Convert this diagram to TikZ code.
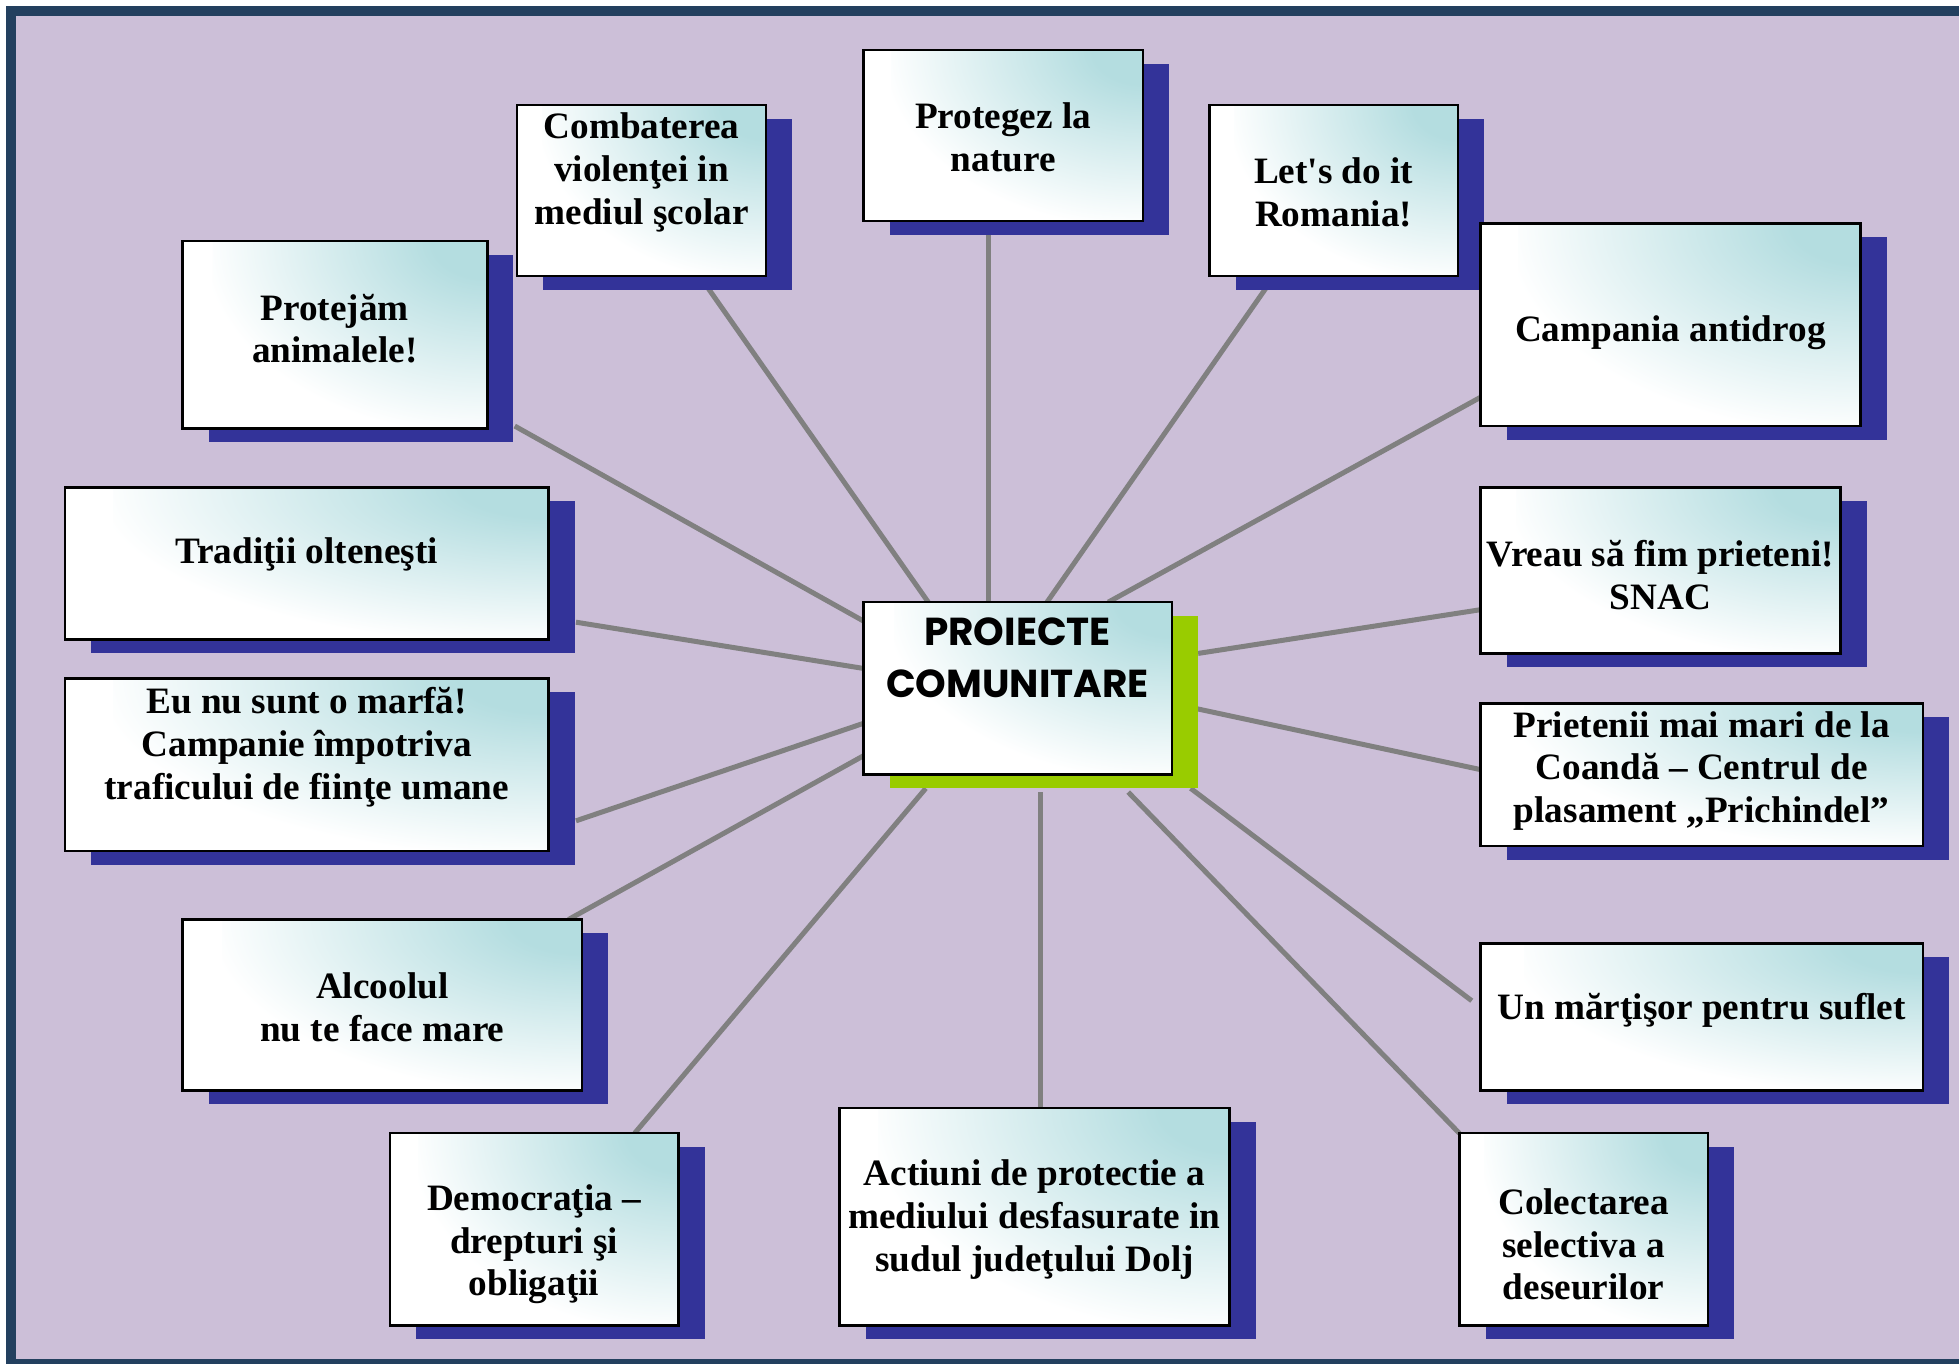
\documentclass[tikz,border=0pt]{standalone}
\usepackage{fontspec}
\setmainfont{Liberation Serif}[Ligatures=TeXOff]
\newfontfamily\ctrfont{Poppins}
\usetikzlibrary{calc}
\definecolor{bgl}{RGB}{204,191,216}
\definecolor{framec}{RGB}{35,64,95}
\definecolor{shadowblue}{RGB}{51,51,153}
\definecolor{shgreen}{RGB}{153,204,0}
\definecolor{conn}{RGB}{128,128,128}
\definecolor{boxteal}{RGB}{180,221,224}
\pgfdeclareradialshading{tealglow}{\pgfpoint{0bp}{0bp}}{color(0bp)=(boxteal); color(5bp)=(boxteal); color(26bp)=(white); color(50bp)=(white)}
\pgfdeclarelayer{back}
\pgfdeclarelayer{lines}
\pgfsetlayers{back,lines,main}
\tikzset{
  boxnode/.style={draw=black, line width=1pt, inner sep=0pt, outer sep=0pt},
  boxtext/.style={align=center, inner sep=0pt, font=\fontsize{14.9}{17.1}\selectfont\bfseries},
  ctrtext/.style={align=center, inner sep=0pt, font=\fontsize{15.6}{20.5}\selectfont\ctrfont\bfseries},
  connector/.style={draw=conn, line width=2pt},
  glow/.style={shading=tealglow}
}
% #1 x1, #2 y1, #3 x2, #4 y2 : gradient fill of a box
\newcommand\boxglow[4]{%
  \pgfmathsetmacro\ga{0.9*(#3-#1)}%
  \pgfmathsetmacro\gb{1.0*(#4-#2)}%
  \fill[white] (#1,#2) rectangle (#3,#4);
  \begin{scope}
    \clip (#1,#2) rectangle (#3,#4);
    \shade[glow] ({#3-\ga},{#2-\gb}) rectangle ({#3+\ga},{#2+\gb});
  \end{scope}
}
\newcommand\pbox[8]{%
  \pgfmathsetmacro\bw{(#4-#2)*0.5}%
  \pgfmathsetmacro\bh{(#5-#3)*0.5}%
  \fill[#8] ({#2+21},{#3+11}) rectangle ({#4+21},{#5+11});
  \boxglow{#2}{#3}{#4}{#5}
  \node[boxnode, minimum width=\bw pt, minimum height=\bh pt] (#1) at ({(#2+#4)/2},{(#3+#5)/2}) {};
  \node[boxtext] (#1-t) at ({(#2+#4)/2},{#6}) {#7};
}
\begin{document}
\begin{tikzpicture}[x=0.5pt,y=-0.5pt]
\useasboundingbox (0,0) rectangle (1568,1091);
\clip (0,0) rectangle (1568,1091);
\begin{pgfonlayer}{back}
\fill[white] (0,0) rectangle (1568,1091);
\draw[framec, line width=4pt, fill=bgl] (9,9) rectangle (1620,1092);
\end{pgfonlayer}

% boxes
\pbox{comb}{414}{84}{613}{221}{138}{Combaterea\\violenţei in\\mediul şcolar}{shadowblue}
\pbox{prot}{691}{40}{915}{177}{110}{Protegez la\\nature}{shadowblue}
\pbox{lets}{968}{84}{1167}{221}{154}{Let's do it\\Romania!}{shadowblue}
\pbox{anim}{146}{193}{390}{343}{263}{Protejăm\\animalele!}{shadowblue}
\pbox{camp}{1185}{179}{1489}{341}{266}{Campania antidrog}{shadowblue}
\pbox{trad}{52}{390}{439}{512}{444}{Tradiţii olteneşti}{shadowblue}
\pbox{vreau}{1185}{390}{1473}{523}{460}{Vreau să fim prieteni!\\SNAC}{shadowblue}
\pbox{eu}{52}{543}{439}{681}{598}{Eu nu sunt o marfă!\\Campanie împotriva\\traficului de fiinţe umane}{shadowblue}
\pbox{prie}{1185}{563}{1539}{677}{617}{Prietenii mai mari de la\\Coandă – Centrul de\\plasament „Prichindel”}{shadowblue}
\pbox{alc}{146}{736}{466}{873}{806}{Alcoolul\\nu te face mare}{shadowblue}
\pbox{mart}{1185}{755}{1539}{873}{809}{Un mărţişor pentru suflet}{shadowblue}
\pbox{dem}{312}{907}{543}{1061}{996}{Democraţia –\\drepturi şi\\obligaţii}{shadowblue}
\pbox{act}{672}{887}{984}{1061}{976}{Actiuni de protectie a\\mediului desfasurate in\\sudul judeţului Dolj}{shadowblue}
\pbox{col}{1168}{907}{1367}{1061}{996}{Colectarea\\selectiva a\\deseurilor}{shadowblue}

% center
\fill[shgreen] (712,493) rectangle (959,631);
\boxglow{691}{482}{938}{620}
\node[boxnode, minimum width=123.5pt, minimum height=69pt] (ctr) at (814.5,551) {};
\node[ctrtext] (ctr-t) at (814.5,526.5) {PROIECTE\\COMUNITARE};

% connectors
\begin{pgfonlayer}{lines}
\draw[connector] ($(comb.south west)+(153,10)$) -- ($(ctr.north west)+(52,0)$);
\draw[connector] ($(prot.south west)+(100,11)$) -- ($(ctr.north west)+(100,0)$);
\draw[connector] ($(lets.south west)+(45,10)$) -- ($(ctr.north west)+(147,0)$);
\draw[connector] ($(anim.south east)+(22,-2)$) -- ($(ctr.north west)+(0,15)$);
\draw[connector] ($(camp.south west)+(0,-23)$) -- ($(ctr.north west)+(196,0)$);
\draw[connector] ($(trad.south east)+(22,-14)$) -- ($(ctr.north west)+(0,53)$);
\draw[connector] ($(vreau.south west)+(0,-35)$) -- ($(ctr.north east)+(21,41)$);
\draw[connector] ($(prie.south west)+(0,-61)$) -- ($(ctr.north east)+(0,81)$);
\draw[connector] ($(eu.south east)+(22,-24)$) -- ($(ctr.north west)+(0,97)$);
\draw[connector] ($(alc.north east)+(-11,0)$) -- ($(ctr.north west)+(0,123)$);
\draw[connector] ($(mart.south west)+(-7,-72)$) -- ($(ctr.north east)+(15,149)$);
\draw[connector] ($(dem.north west)+(196,0)$) -- ($(ctr.south west)+(50,11)$);
\draw[connector] ($(act.north west)+(161,0)$) -- ($(ctr.south west)+(142,14)$);
\draw[connector] ($(col.north west)+(0,0)$) -- ($(ctr.south west)+(212,14)$);
\end{pgfonlayer}
\end{tikzpicture}
\end{document}
